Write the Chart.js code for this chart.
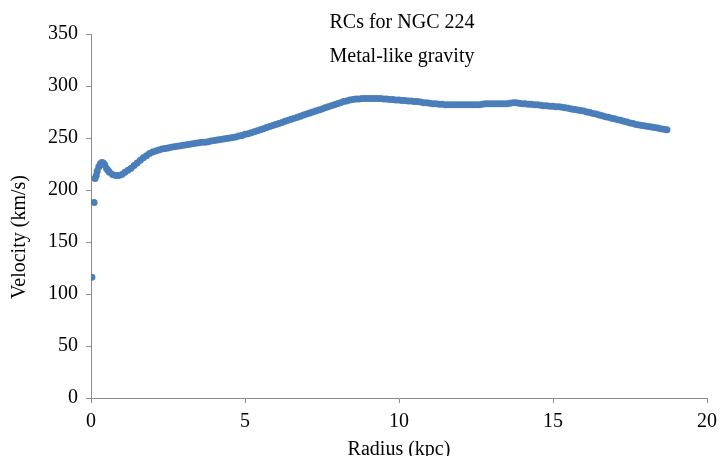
<!DOCTYPE html>
<html lang="en">
<head>
    <meta charset="UTF-8">
    <title>RCs for NGC 224</title>
    <script src="https://cdn.jsdelivr.net/npm/chart.js"></script>
    <style>
body {
    margin: 0;
    padding: 0;
    background-color: #ffffff;
}

#rcChart {
    display: block;
}
    </style>
</head>
<body>

    <canvas id="rcChart" width="724" height="456"></canvas>

    <script>
        // rotation curve (kpc, km/s)
        const radius = [
            0.03, 0.1, 0.13, 0.17, 0.2, 0.25, 0.3, 0.35, 0.4, 0.45, 0.5, 0.55, 0.6, 0.7, 0.8, 0.9, 1.0,
            1.1, 1.2, 1.3, 1.4, 1.5, 1.6, 1.7, 1.8, 1.9, 2.0,
            2.1, 2.2, 2.3, 2.4, 2.5, 2.6, 2.7, 2.8, 2.9, 3.0,
            3.1, 3.2, 3.3, 3.4, 3.5, 3.6, 3.7, 3.8, 3.9, 4.0,
            4.1, 4.2, 4.3, 4.4, 4.5, 4.6, 4.7, 4.8, 4.9, 5.0,
            5.1, 5.2, 5.3, 5.4, 5.5, 5.6, 5.7, 5.8, 5.9, 6.0,
            6.1, 6.2, 6.3, 6.4, 6.5, 6.6, 6.7, 6.8, 6.9, 7.0,
            7.1, 7.2, 7.3, 7.4, 7.5, 7.6, 7.7, 7.8, 7.9, 8.0,
            8.1, 8.2, 8.3, 8.4, 8.5, 8.6, 8.7, 8.8, 8.9, 9.0,
            9.1, 9.2, 9.3, 9.4, 9.5, 9.6, 9.7, 9.8, 9.9, 10.0,
            10.1, 10.2, 10.3, 10.4, 10.5, 10.6, 10.7, 10.8, 10.9, 11.0,
            11.1, 11.2, 11.3, 11.4, 11.5, 11.6, 11.7, 11.8, 11.9, 12.0,
            12.1, 12.2, 12.3, 12.4, 12.5, 12.6, 12.7, 12.8, 12.9, 13.0,
            13.1, 13.2, 13.3, 13.4, 13.5, 13.6, 13.7, 13.8, 13.9, 14.0,
            14.1, 14.2, 14.3, 14.4, 14.5, 14.6, 14.7, 14.8, 14.9, 15.0,
            15.1, 15.2, 15.3, 15.4, 15.5, 15.6, 15.7, 15.8, 15.9, 16.0,
            16.1, 16.2, 16.3, 16.4, 16.5, 16.6, 16.7, 16.8, 16.9, 17.0,
            17.1, 17.2, 17.3, 17.4, 17.5, 17.6, 17.7, 17.8, 17.9, 18.0,
            18.1, 18.2, 18.3, 18.4, 18.5, 18.6, 18.7
        ];
        const velocity = [
            116, 188, 211, 214, 218, 222, 225, 226.5, 226, 224, 221, 219, 217, 215, 214, 214, 215,
            217, 219, 221, 223.5, 226, 228.5, 231, 233, 235, 236.5,
            237.5, 238.5, 239.5, 240, 240.5, 241, 241.5, 242, 242.5, 243,
            243.5, 244, 244.5, 245, 245.5, 246, 246, 246.5, 247, 247.5,
            248, 248.5, 249, 249.5, 250, 250.5, 251, 252, 252.5, 253.5,
            254, 255, 256, 257, 258, 259, 260, 261, 262, 263,
            264, 265, 266, 267, 268, 269, 270, 271, 272, 273,
            274, 275, 276, 277, 278, 279, 280, 281, 282, 283,
            284, 285, 285.5, 286.5, 287, 287.5, 287.5, 288, 288, 288,
            288, 288, 288, 288, 287.5, 287.5, 287, 287, 286.5, 286.5,
            286, 286, 285.5, 285.5, 285, 285, 284.5, 284, 284, 283.5,
            283, 283, 282.5, 282.5, 282, 282, 282, 282, 282, 282,
            282, 282, 282, 282, 282, 282, 282.5, 283, 283, 283,
            283, 283, 283, 283, 283, 283.5, 284, 284, 283.5, 283,
            283, 282.5, 282.5, 282, 282, 281.5, 281, 281, 280.5, 280.5,
            280, 280, 279.5, 279, 278.5, 278, 277.5, 277, 276.5, 276,
            275, 274.5, 273.5, 273, 272, 271.5, 270.5, 270, 269, 268.5,
            267.5, 267, 266, 265.5, 264.5, 264, 263, 262.5, 262, 261.5,
            261, 260.5, 260, 259.5, 259, 258.5, 258
        ];
        const xTicks = [0, 5, 10, 15, 20];
        const yTicks = [0, 50, 100, 150, 200, 250, 300, 350];
        const titleLines = ["RCs for NGC 224", "Metal-like gravity"];
        const xTitle = "Radius (kpc)";
        const yTitle = "Velocity (km/s)";

        const serif = "'Liberation Serif', 'Times New Roman', serif";
        const axisGrey = "#8c8c8c";

        // titles sit inside the plot, y axis title is drawn by hand
        const textPlugin = {
            id: "rcText",
            afterDraw(chart) {
                const ctx = chart.ctx;
                ctx.save();
                ctx.fillStyle = "#000";
                ctx.font = "20px " + serif;
                ctx.textAlign = "center";
                ctx.textBaseline = "alphabetic";
                ctx.fillText(titleLines[0], 402, 28);
                ctx.fillText(titleLines[1], 402, 62);

                ctx.translate(20, 237);
                ctx.rotate(-Math.PI / 2);
                ctx.textBaseline = "middle";
                ctx.fillText(yTitle, 0, 0);
                ctx.restore();
            }
        };

        const points = radius.map((r, i) => ({ x: r, y: velocity[i] }));

        new Chart(document.getElementById("rcChart").getContext("2d"), {
            type: "scatter",
            data: {
                datasets: [{
                    data: points,
                    backgroundColor: "#4a7ebb",
                    borderWidth: 0,
                    pointRadius: 3.5,
                    pointHoverRadius: 3.5
                }]
            },
            options: {
                responsive: false,
                animation: false,
                events: [],
                layout: { padding: { top: 34, right: 17, left: 0, bottom: 0 } },
                plugins: {
                    legend: { display: false },
                    tooltip: { enabled: false }
                },
                scales: {
                    x: {
                        type: "linear",
                        min: 0,
                        max: 20,
                        afterFit(scale) { scale.height = 58; },
                        afterBuildTicks(scale) { scale.ticks = xTicks.map(v => ({ value: v })); },
                        ticks: { color: "#000", padding: 7, font: { family: serif, size: 20 } },
                        grid: { drawOnChartArea: false, drawTicks: true, tickLength: 5, color: axisGrey },
                        border: { color: axisGrey, width: 1 },
                        title: {
                            display: true,
                            text: xTitle,
                            color: "#000",
                            padding: { top: 0, bottom: -4 },
                            font: { family: serif, size: 20, lineHeight: 1 }
                        }
                    },
                    y: {
                        type: "linear",
                        min: 0,
                        max: 350,
                        afterFit(scale) { scale.width = 91; },
                        afterBuildTicks(scale) { scale.ticks = yTicks.map(v => ({ value: v })); },
                        ticks: { color: "#000", padding: 8, font: { family: serif, size: 20 } },
                        grid: { drawOnChartArea: false, drawTicks: true, tickLength: 5, color: axisGrey },
                        border: { color: axisGrey, width: 1 }
                    }
                }
            },
            plugins: [textPlugin]
        });
    </script>
</body>
</html>
